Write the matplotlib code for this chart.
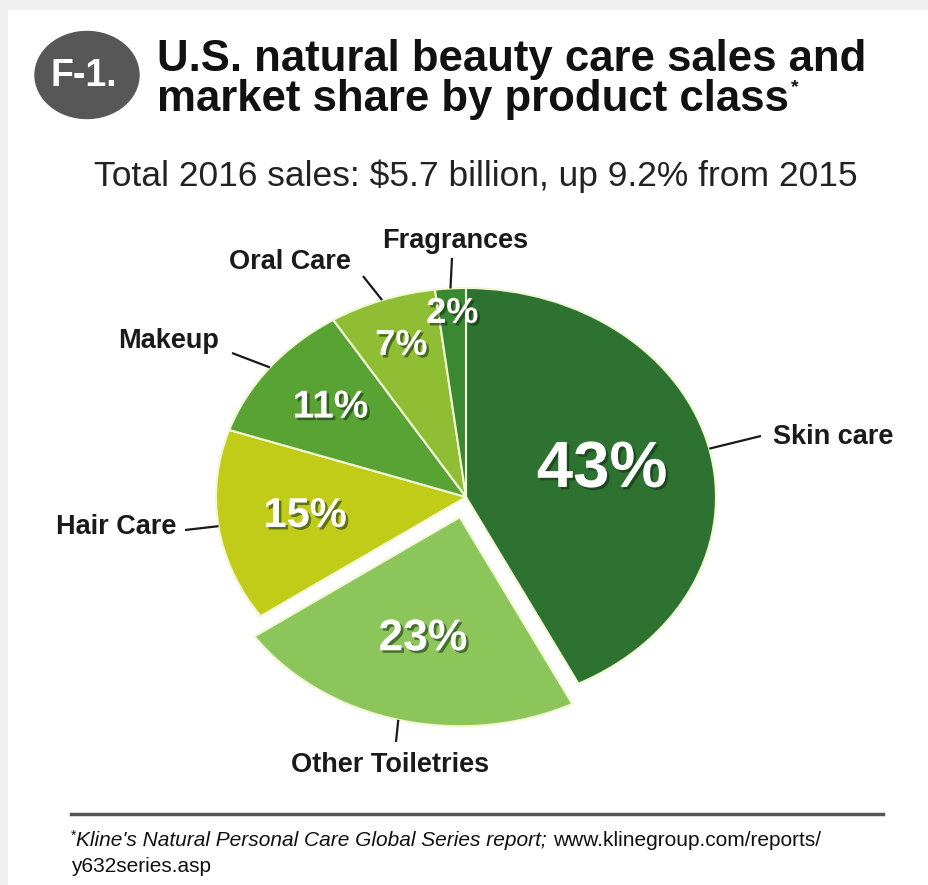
"""Natural beauty care market share pie, F-1 style."""
import matplotlib
matplotlib.use("Agg")
import matplotlib.patheffects as pe
import matplotlib.pyplot as plt
import numpy as np
from matplotlib.patches import Ellipse, Rectangle

categories = ["Skin care", "Other Toiletries", "Hair Care", "Makeup",
              "Oral Care", "Fragrances"]
shares = [43, 23, 15, 11, 7, 2]

badge = "F-1."
title_lines = ["U.S. natural beauty care sales and",
               "market share by product class"]
subtitle = "Total 2016 sales: $5.7 billion, up 9.2% from 2015"
note_italic = "Kline's Natural Personal Care Global Series report; "
note_url = ["www.klinegroup.com/reports/", "y632series.asp"]

# styling
colors = ["#2d7230", "#8cc65a", "#c0cc17", "#58a333", "#8fbe34", "#3a8932"]
explode = [0, 0.1, 0, 0, 0, 0]
pct_radius = [0.56, 0.6, 0.65, 0.69, 0.77, 0.88]
pct_size = [47, 32, 30, 28, 26, 26]
# label anchor (x, y, ha) and outer end of each leader, pie data units
label_pos = [(1.228, 0.287, "left"), (-0.304, -1.282, "center"),
             (-1.16, -0.144, "right"), (-0.988, 0.746, "right"),
             (-0.46, 1.124, "right"), (-0.044, 1.225, "center")]
leader_end = [(1.18, 0.292), (-0.28, -1.172), (-1.124, -0.158),
              (-0.936, 0.689), (-0.412, 1.057), (-0.056, 1.144)]

W, H = 929, 885
FONT = "Liberation Sans"


def fx(x):
    return x / W


def fy(y):
    return 1 - y / H


fig = plt.figure(figsize=(W / 100, H / 100), dpi=100, facecolor="#efefef")
fig.add_artist(Rectangle((fx(8), 0), 1, fy(10), transform=fig.transFigure,
                         facecolor="white", edgecolor="none", zorder=-1))

# pie: centre at (466, 497) px, radii 250 x 209 px
ax = fig.add_axes([0, 0, 1, 1])
wedges, _ = ax.pie(shares, colors=colors, explode=explode, startangle=90,
                   counterclock=False,
                   wedgeprops=dict(edgecolor="#f2f7d6", linewidth=1.5))
ax.set_aspect("auto")
ax.set_xlim(-466 / 250, (W - 466) / 250)
ax.set_ylim((497 - H) / 209, 497 / 209)
ax.axis("off")

shadow = [pe.withSimplePatchShadow(offset=(1.8, -1.8),
                                   shadow_rgbFace="#0f2a0c", alpha=0.55)]
for w, v, r, s, cat, (lx, ly, ha), (ex, ey) in zip(
        wedges, shares, pct_radius, pct_size, categories, label_pos,
        leader_end):
    mid = np.deg2rad((w.theta1 + w.theta2) / 2)
    cx, cy = w.center
    ax.text(cx + r * np.cos(mid), cy + r * np.sin(mid), f"{v}%",
            ha="center", va="center", color="white", fontsize=s,
            fontweight="bold", family=FONT, path_effects=shadow)
    rx, ry = cx + np.cos(mid), cy + np.sin(mid)
    ax.plot([rx, ex], [ry, ey], color="#1a1a1a", lw=1.6,
            solid_capstyle="butt")
    ax.text(lx, ly, cat, ha=ha, va="center", fontsize=19.5,
            fontweight="bold", family=FONT, color="#1a1a1a")

# header
fig.add_artist(Ellipse((fx(87), fy(75)), 104 / W, 87 / H,
                       transform=fig.transFigure, color="#575757"))
fig.text(fx(84), fy(76), badge, ha="center", va="center", color="white",
         fontsize=27, fontweight="bold", family=FONT)
fig.text(fx(157), fy(71), title_lines[0], fontsize=31.5, fontweight="bold",
         family=FONT, va="baseline", color="#111111")
t2 = fig.text(fx(157), fy(111), title_lines[1], fontsize=31.5,
              fontweight="bold", family=FONT, va="baseline", color="#111111")
fig.text(fx(476), fy(186), subtitle, ha="center", va="baseline",
         fontsize=25.5, family=FONT, color="#222222")

renderer = fig.canvas.get_renderer()
bb = t2.get_window_extent(renderer)
fig.text(bb.x1 / W + 0.002, fy(92), "*", fontsize=14, fontweight="bold",
         family=FONT, va="baseline", color="#111111")

# footnote
fig.add_artist(plt.Line2D([fx(71), fx(883)], [fy(814), fy(814)],
                          transform=fig.transFigure, color="#555555", lw=2.5))
n0 = fig.text(fx(71), fy(840), "*", fontsize=10, family=FONT, va="baseline",
              color="#111111")
nb = n0.get_window_extent(renderer)
n1 = fig.text(nb.x1 / W, fy(846), note_italic, fontsize=15, style="italic",
              family=FONT, va="baseline", color="#111111")
nb = n1.get_window_extent(renderer)
fig.text(nb.x1 / W, fy(846), note_url[0], fontsize=15, family=FONT,
         va="baseline", color="#111111")
fig.text(fx(71), fy(872), note_url[1], fontsize=15, family=FONT,
         va="baseline", color="#111111")

fig.savefig("out.png", dpi=100, facecolor=fig.get_facecolor())
plt.close(fig)
